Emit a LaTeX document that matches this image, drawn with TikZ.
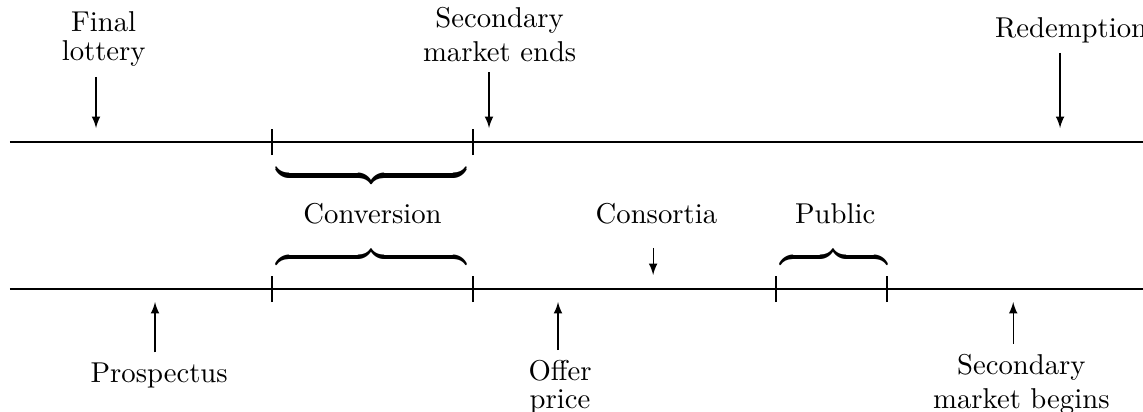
\documentclass[tikz,border=0pt]{standalone}
\tikzset{
  txt/.style={anchor=base},
  ptr/.style={-latex},
}
% braces drawn twice, a hair apart, for a heavier stroke
\newcommand{\ubrace}[1]{\rlap{$\underbrace{\hspace{#1}}$}\raisebox{0.45pt}{$\underbrace{\hspace{#1}}$}}
\newcommand{\obrace}[1]{\rlap{$\overbrace{\hspace{#1}}$}\raisebox{-0.45pt}{$\overbrace{\hspace{#1}}$}}
\begin{document}
\begin{tikzpicture}
\useasboundingbox (0,0) rectangle (14,5.034);
% the two time lines
\coordinate (t0) at (0.12,3.295);
\coordinate (t1) at (14.2,3.295);
\coordinate (b0) at (0.12,1.494);
\coordinate (b1) at (14.2,1.494);
\draw [-latex] (t0) -- (t1);
\draw [-latex] (b0) -- (b1);
\foreach \x in {3.332,5.794} {
  \draw (\x,3.135) -- (\x,3.455);
}
\foreach \x in {3.332,5.794,9.505,10.865} {
  \draw (\x,1.334) -- (\x,1.654);
}
% upper line
\node [txt] (final) at (1.27,4.29) {\shortstack{Final\\lottery}};
\node [txt] (secend) at (6.12,4.28) {\shortstack{Secondary\\market ends}};
\node [txt] (redeem) at (13.12,4.58) {Redemption};
\coordinate (finalx) at (1.176,3.466);
\coordinate (secendx) at (5.99,3.466);
\coordinate (redeemx) at (12.984,3.466);
\draw [ptr] (final.south -| finalx) -- (finalx);
\draw [ptr] (secend.south -| secendx) -- (secendx);
\draw [ptr] (redeem.south -| redeemx) -- (redeemx);
% between the lines
\node (convup) at (4.55,2.88) {\ubrace{2.33cm}};
\node [txt] (conv) at (4.563,2.30) {Conversion};
\node (convlo) at (4.55,1.885) {\obrace{2.33cm}};
\node [txt] (cons) at (8.04,2.30) {Consortia};
\node [txt] (pub) at (10.23,2.30) {Public};
\node (publo) at (10.21,1.885) {\obrace{1.31cm}};
\coordinate (cons0) at (8.0,1.997);
\coordinate (cons1) at (8.0,1.666);
\draw [ptr] (cons0) -- (cons1);
% lower line
\node [txt] (prosp) at (1.95,0.355) {Prospectus};
\node [txt] (offer) at (6.86,0.03) {\shortstack{Offer\\price}};
\node [txt] (secbeg) at (12.51,0.03) {\shortstack{Secondary\\market begins}};
\coordinate (prospx) at (1.899,1.335);
\coordinate (offerx) at (6.835,1.335);
\coordinate (secbegx) at (12.41,1.335);
\draw [ptr] (prosp.north -| prospx) -- (prospx);
\draw [ptr] (offer.north -| offerx) -- (offerx);
\draw [ptr] (secbeg.north -| secbegx) -- (secbegx);
\end{tikzpicture}
\end{document}
